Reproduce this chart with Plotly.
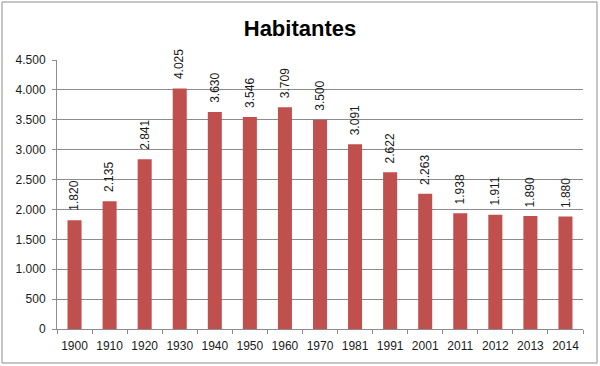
import plotly.graph_objects as go

years = ["1900", "1910", "1920", "1930", "1940", "1950", "1960", "1970", "1981",
         "1991", "2001", "2011", "2012", "2013", "2014"]
habitantes = [1820, 2135, 2841, 4025, 3630, 3546, 3709, 3500, 3091, 2622, 2263,
              1938, 1911, 1890, 1880]
title_text = "Habitantes"

L, R, T, B = 57, 17, 60, 37
W, H = 600, 366
pw, ph = W - L - R, H - T - B

fig = go.Figure(go.Bar(
    x=years, y=habitantes,
    marker=dict(color="#C0504D", line=dict(width=0)),
    hoverinfo="skip",
))

annotations = [
    dict(x=i, y=v, xref="x", yref="y", text=f"{v:,}".replace(",", "."),
         textangle=-90, showarrow=False, xanchor="center", yanchor="bottom",
         yshift=7, font=dict(family="Liberation Sans", size=12, color="#1a1a1a"))
    for i, v in enumerate(habitantes)
]

fig.update_layout(
    width=W, height=H,
    margin=dict(l=L, r=R, t=T, b=B, autoexpand=False),
    separators=",.",
    paper_bgcolor="white", plot_bgcolor="white",
    bargap=0.6,
    showlegend=False,
    annotations=annotations,
    title=dict(text="<b>" + title_text + "</b>", x=0.5, xanchor="center",
               y=1 - 28 / H, yanchor="middle",
               font=dict(family="Liberation Sans", size=22, color="black")),
    font=dict(family="Liberation Sans", size=12, color="#1a1a1a"),
    xaxis=dict(type="category", range=[-0.5, len(years) - 0.5],
               showline=True, linecolor="#8c8c8c", linewidth=1,
               ticks="outside", tickson="boundaries", ticklen=4, tickcolor="#8c8c8c",
               showgrid=False, tickangle=0, tickfont=dict(size=12),
               ticklabelstandoff=6),
    yaxis=dict(range=[0, 4500], dtick=500, tickformat=",", showline=True,
               linecolor="#8c8c8c", linewidth=1, ticks="outside", ticklen=4,
               tickcolor="#8c8c8c", showgrid=True, gridcolor="#8c8c8c",
               gridwidth=1, zeroline=False, tickfont=dict(size=12),
               ticklabelstandoff=4),
    shapes=[dict(type="rect", xref="paper", yref="paper",
                 x0=(2 - L) / pw, x1=(597 - L) / pw,
                 y0=(H - B - 363) / ph, y1=(H - B - 2) / ph,
                 line=dict(color="#8c8c8c", width=1), layer="below")],
)

fig.write_html("out.html", config={"displayModeBar": False},
               post_script="document.body.style.margin='0';document.body.style.overflow='hidden';")
